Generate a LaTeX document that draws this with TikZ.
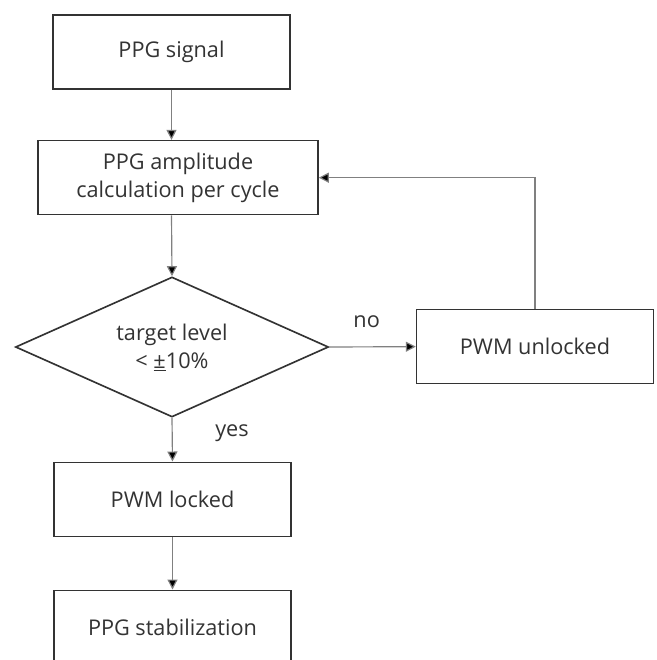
\documentclass[tikz,border=0pt]{standalone}
\usepackage{fontspec}
\setmainfont{Open Sans}
\usetikzlibrary{shapes.geometric,arrows.meta}
\tikzset{
  procbox/.style={draw=black!80, line width=1.4pt, fill=white, align=center,
    minimum width=7.1cm, minimum height=2.22cm, inner sep=0pt},
  flowline/.style={draw=black!50, line width=1pt,
    -{Triangle[length=0.3cm, width=0.3cm, fill=black]}},
}
\begin{document}
\begin{tikzpicture}[font=\fontsize{18.5}{24}\selectfont, text=black!80]
  \clip (0,0) rectangle (19.68,-19.8);
  \fill[white] (0,0) rectangle (19.68,-19.8);
  % boxes of the main flow
  \node[procbox] (sig) at (5.145,-1.56) {PPG signal};
  \node[procbox, minimum width=8.4cm] (amp) at (5.34,-5.33)
    {PPG amplitude\\calculation per cycle};
  \node[draw=black!80, line width=1.4pt, fill=white, shape=diamond, aspect=2.24,
    align=center, minimum width=9.39cm, minimum height=4.2cm, inner sep=0pt]
    (dec) at (5.16,-10.41) {target level\\< \underline{±}10\%};
  \node[procbox] (unl) at (16.05,-10.4) {PWM unlocked};
  \node[procbox] (lck) at (5.175,-14.98) {PWM locked};
  \node[procbox] (stb) at (5.175,-18.82) {PPG stabilization};
  % connectors
  \draw[flowline] (sig.south) -- (sig.south |- amp.north);
  \draw[flowline] (sig.south |- amp.south) -- (dec.north);
  \draw[flowline] (dec.east) -- (unl.west);
  \draw[flowline] (unl.north) |- (amp.east);
  \draw[flowline] (dec.south) -- (lck.north);
  \draw[flowline] (lck.south) -- (stb.north);
  % labels
  \node (no) at (11.0,-9.66) {no};
  \node (yes) at (6.96,-12.99) {yes};
\end{tikzpicture}
\end{document}
